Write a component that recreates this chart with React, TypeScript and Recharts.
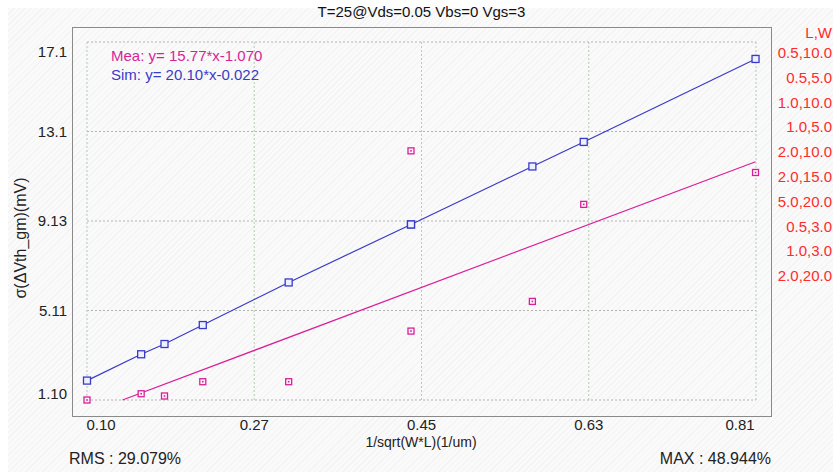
import React from 'react';
import { ScatterChart, Scatter, XAxis, YAxis, CartesianGrid } from 'recharts';

// device list (L,W) and the x value 1/sqrt(W*L) of each
const DEVICES = ['0.5,10.0', '0.5,5.0', '1.0,10.0', '1.0,5.0', '2.0,10.0', '2.0,15.0', '5.0,20.0', '0.5,3.0', '1.0,3.0', '2.0,20.0'];
const X_VALUES = [0.447, 0.632, 0.316, 0.447, 0.224, 0.183, 0.1, 0.816, 0.577, 0.158];
const SIM_VALUES = [8.97, 12.67, 6.37, 8.97, 4.46, 3.61, 1.97, 16.39, 11.57, 3.15];
const MEA_VALUES = [12.27, 9.87, 1.92, 4.19, 1.92, 1.28, 1.1, 11.3, 5.52, 1.38];

// measured fit line end points (y = 15.77*x - 1.070)
const MEA_FIT_X = [0.138, 0.816];
const MEA_FIT_Y = [1.1, 11.78];

const X_TICKS = [0.1, 0.2791, 0.4583, 0.6374, 0.8165];
const X_TICK_LABELS = ['0.10', '0.27', '0.45', '0.63', '0.81'];
const Y_TICKS = [1.1, 5.1125, 9.125, 13.1375, 17.15];
const Y_TICK_LABELS = ['1.10', '5.11', '9.13', '13.1', '17.1'];

const FONT = '"Liberation Sans", Arial, sans-serif';
const BLUE = '#3a3ac8';
const PINK = '#d81f98';
const RED = '#ff2b2b';

const simData = X_VALUES.map((x, i) => ({ x, y: SIM_VALUES[i] })).sort((a, b) => a.x - b.x);
const meaData = X_VALUES.map((x, i) => ({ x, y: MEA_VALUES[i] }));
const meaFit = MEA_FIT_X.map((x, i) => ({ x, y: MEA_FIT_Y[i] }));

const SimMark = (p: any) => (
  <rect x={p.cx - 3.5} y={p.cy - 3.5} width={7} height={7} fill="#eef0ff" stroke={BLUE} strokeWidth={1.3} />
);

const MeaMark = (p: any) => (
  <g>
    <rect x={p.cx - 3} y={p.cy - 3} width={6} height={6} fill="#fff4fb" stroke={PINK} strokeWidth={1.3} />
    <rect x={p.cx - 0.8} y={p.cy - 0.8} width={1.6} height={1.6} fill={PINK} />
  </g>
);

const NoMark = () => <g />;

const nearest = (ticks: number[], v: number) => {
  let best = 0;
  ticks.forEach((t, i) => { if (Math.abs(t - v) < Math.abs(ticks[best] - v)) best = i; });
  return best;
};

// axis boxes: x axis top at y=400, y axis right edge at x=87
const renderXTick = (p: any) => {
  const i = nearest(X_TICKS, Number(p.payload.value));
  const x = Math.min(Math.max(p.payload.coordinate, 101), 740);
  return (
    <text key={'xt' + i} x={x} y={430} textAnchor="middle" fontSize={15} fontFamily={FONT} fill="#222">
      {X_TICK_LABELS[i]}
    </text>
  );
};

const renderYTick = (p: any) => {
  const i = nearest(Y_TICKS, Number(p.payload.value));
  const y = Math.min(Math.max(p.payload.coordinate, 52), 394);
  return (
    <text key={'yt' + i} x={67} y={y + 5} textAnchor="end" fontSize={15} fontFamily={FONT} fill="#222">
      {Y_TICK_LABELS[i]}
    </text>
  );
};

const abs = (style: React.CSSProperties): React.CSSProperties => ({ position: 'absolute', whiteSpace: 'nowrap', ...style });

export default function App() {
  return (
    <div style={{ position: 'absolute', left: 0, top: 0, width: 833, height: 472, overflow: 'hidden', background: '#fff', fontFamily: FONT }}>
      <div
        style={abs({
          left: 8, top: 8, width: 825, height: 464,
          background: 'repeating-linear-gradient(135deg, #f3f3f3 0px, #f3f3f3 1px, #fafafa 1px, #fafafa 4px)',
        })}
      />
      {/* plot frame */}
      <div style={abs({ left: 72, top: 27, width: 698, height: 388, border: '1.5px solid #8a8a8a' })} />

      <div style={abs({ left: 0, top: 0, width: 833, height: 472 })}>
        <ScatterChart width={833} height={472} margin={{ top: 42, right: 77, bottom: 42, left: 27 }}>
          <CartesianGrid vertical={false} stroke="#b4b4b4" strokeDasharray="2 2" />
          <CartesianGrid horizontal={false} stroke="#b3cbb3" strokeDasharray="2 2" />
          <XAxis
            type="number"
            dataKey="x"
            domain={[0.1, 0.8165]}
            ticks={X_TICKS}
            height={30}
            axisLine={false}
            tickLine={false}
            tick={renderXTick}
            interval={0}
          />
          <YAxis
            type="number"
            dataKey="y"
            domain={[1.1, 17.15]}
            ticks={Y_TICKS}
            width={60}
            axisLine={false}
            tickLine={false}
            tick={renderYTick}
            interval={0}
          />
          <Scatter data={meaFit} line={{ stroke: PINK, strokeWidth: 1.2 }} shape={<NoMark />} isAnimationActive={false} />
          <Scatter data={simData} line={{ stroke: BLUE, strokeWidth: 1.2 }} shape={<SimMark />} isAnimationActive={false} />
          <Scatter data={meaData} shape={<MeaMark />} isAnimationActive={false} />
        </ScatterChart>
      </div>

      <div style={abs({ left: 0, width: 843, top: 3, textAlign: 'center', fontSize: 15, color: '#111' })}>
        T=25@Vds=0.05 Vbs=0 Vgs=3
      </div>
      <div style={abs({ left: 111, top: 47, fontSize: 15, color: PINK })}>Mea: y= 15.77*x-1.070</div>
      <div style={abs({ left: 111, top: 66, fontSize: 15, color: BLUE })}>Sim: y= 20.10*x-0.022</div>

      <div style={abs({ left: 21, top: 238, fontSize: 16, color: '#222', transform: 'translate(-50%, -50%) rotate(-90deg)' })}>
        σ(ΔVth_gm)(mV)
      </div>
      <div style={abs({ left: 321, width: 200, top: 434, textAlign: 'center', fontSize: 14, color: '#222' })}>
        1/sqrt(W*L)(1/um)
      </div>
      <div style={abs({ left: 69, top: 450, fontSize: 16, color: '#222' })}>RMS : 29.079%</div>
      <div style={abs({ right: 62, top: 450, fontSize: 16, color: '#222' })}>MAX : 48.944%</div>

      <div style={abs({ right: 1, top: 24, fontSize: 15, color: RED })}>L,W</div>
      {DEVICES.map((d, i) => (
        <div key={d + i} style={abs({ right: 1, top: 44 + i * 24.8, fontSize: 15, color: RED })}>
          {d}
        </div>
      ))}
    </div>
  );
}
